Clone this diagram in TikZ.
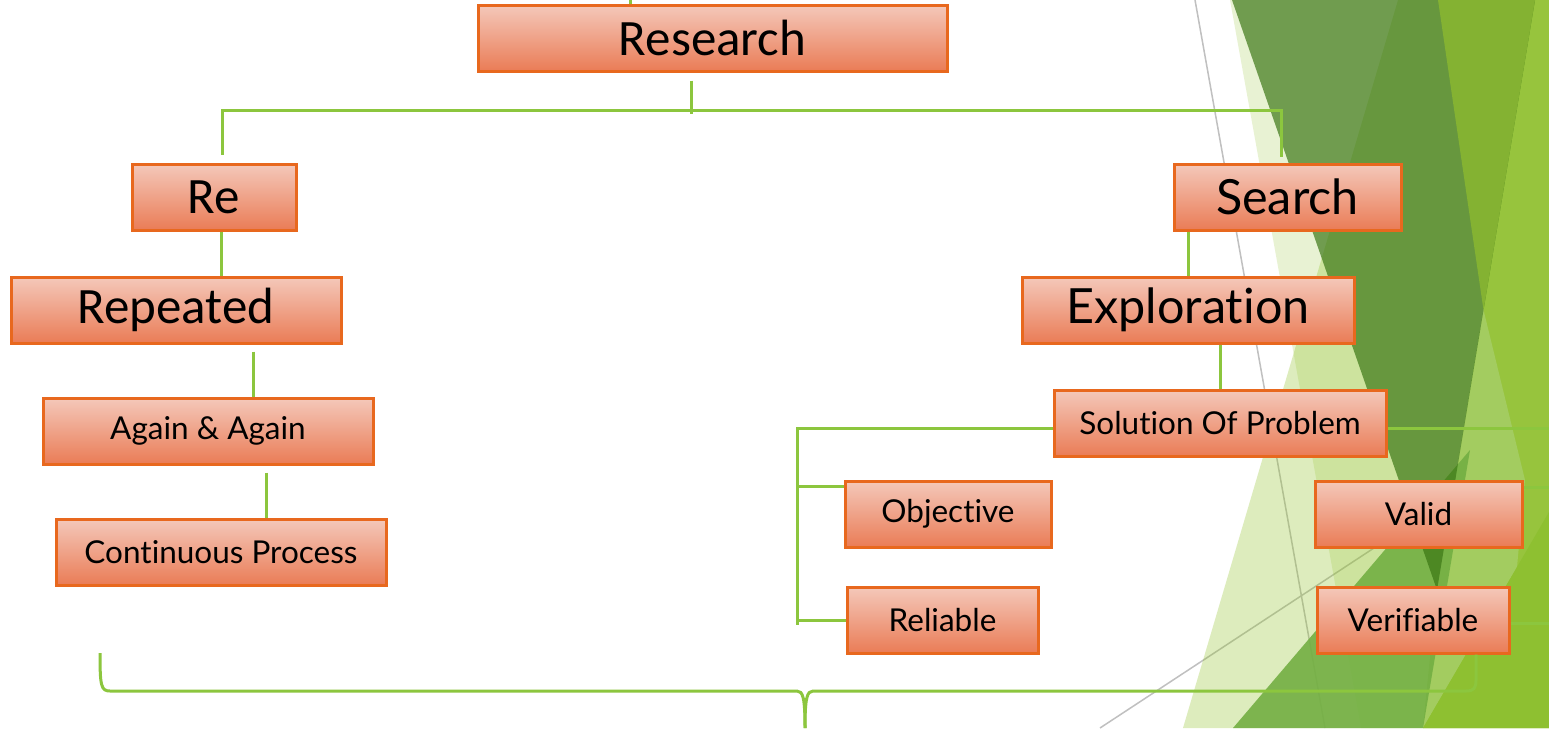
\documentclass[tikz,border=0pt]{standalone}
\usepackage{fontspec}
\newfontfamily\carlito{Carlito}
\newfontfamily\lato[Ligatures=CommonOff]{Lato}
\definecolor{boxtop}{RGB}{244,200,186}
\definecolor{boxbot}{RGB}{234,124,86}
\definecolor{boxline}{RGB}{232,104,30}
\definecolor{linkgreen}{RGB}{140,198,62}
\definecolor{facet}{RGB}{144,194,38}
\definecolor{ybig}{RGB}{151,196,61}
\definecolor{ylight}{RGB}{163,204,96}
\definecolor{ytwo}{RGB}{142,192,49}
\definecolor{yone}{RGB}{132,178,50}
\definecolor{mid}{RGB}{115,175,67}
\definecolor{deep}{RGB}{56,116,17}
\definecolor{rule}{RGB}{192,192,192}
\begin{document}
\begin{tikzpicture}[x=1pt,y=-1pt,
	box/.style={draw=boxline, line width=3pt, top color=boxtop, bottom color=boxbot, minimum height=66pt, inner sep=0pt, text=black},
	bigtxt/.style={font=\carlito\fontsize{51}{55}\selectfont},
	headtxt/.style={font=\lato\fontsize{48.5}{52}\selectfont},
	smalltxt/.style={font=\lato\fontsize{31.5}{35}\selectfont},
	link/.style={draw=linkgreen, line width=3pt}]
	
	\useasboundingbox (0,0) rectangle (1549,728);
	\clip (0,0) rectangle (1549,728);
	\fill[white] (0,0) rectangle (1549,728);
	
	% facets on the right
	\draw[rule, line width=1.5pt] (1195,0) -- (1325,728);
	\draw[rule, line width=1.5pt] (1100,728) -- (1549,433);
	\fill[facet, opacity=0.3] (1398,0) -- (1549,0) -- (1549,728) -- (1183,728) -- cycle;
	\fill[facet, opacity=0.2] (1230,0) -- (1549,0) -- (1549,728) -- (1361,728) -- cycle;
	\fill[ybig] (1500,0) -- (1549,0) -- (1549,728) -- (1423,728) -- (1437,590) -- (1483.5,310) -- cycle;
	\fill[ylight] (1483.5,310) -- (1525,480) -- (1517,567) -- (1423,728) -- (1437,590) -- cycle;
	\fill[ytwo] (1517,567) -- (1549,512) -- (1549,728) -- (1423,728) -- cycle;
	\fill[mid, opacity=0.9] (1233,728) -- (1470,450) -- (1423,728) -- cycle;
	\fill[deep, opacity=0.68] (1232,0) -- (1535,0) -- (1437,590) -- cycle;
	\fill[yone] (1438,0) -- (1535,0) -- (1483.5,310) -- cycle;
	
	% boxes
	\node[box, bigtxt, minimum width=469pt] (research) at (712.5,38) {Research};
	\node[box, bigtxt, minimum width=164pt] (re) at (214,197) {Re};
	\node[box, bigtxt, minimum width=330pt] (repeated) at (176,310) {Repeated};
	\node[box, smalltxt, minimum width=330pt] (again) at (208,431) {Again \& Again};
	\node[box, smalltxt, minimum width=330pt] (cont) at (221,552) {Continuous Process};
	\node[box, headtxt, minimum width=227pt] (search) at (1287.5,197) {Search};
	\node[box, headtxt, minimum width=332pt] (explor) at (1188,310) {Exploration};
	\node[box, smalltxt, minimum width=332pt] (solution) at (1220,423) {Solution Of Problem};
	\node[box, smalltxt, minimum width=206pt] (objective) at (948,514) {Objective};
	\node[box, smalltxt, minimum width=191pt] (reliable) at (942.5,620) {Reliable};
	\node[box, smalltxt, minimum width=207pt] (valid) at (1418.5,514) {Valid};
	\node[box, smalltxt, minimum width=192pt] (verif) at (1413,620) {Verifiable};
	
	\coordinate (stub) at (630,0);
	\coordinate (rmid) at (691,110);
	\coordinate (rleft) at (222,110);
	\coordinate (rright) at (1281,110);
	\coordinate (lbus) at (797,428);
	\coordinate (lend) at (797,625);
	\coordinate (rbus) at (1549,428);
	\coordinate (bl) at (100,653);
	\coordinate (btip) at (805,728);
	
	% connectors
	\draw[link] (stub) -- (stub |- research.north);
	\draw[link, shorten <=8pt, shorten >=-4pt] (research.south -| rmid) -- (rmid);
	\draw[link, shorten <=8pt, shorten >=6pt] (re.north -| rleft) -- (rleft) -- (rright) -- (search.north -| rright);
	\draw[link] ([xshift=7pt]re.south) -- ([xshift=7pt]re.south |- repeated.north);
	\draw[link, shorten <=7pt] ([xshift=77pt]repeated.south) -- ([xshift=77pt]repeated.south |- again.north);
	\draw[link, shorten <=7pt] ([xshift=58pt]again.south) -- ([xshift=58pt]again.south |- cont.north);
	\draw[link] (search.south -| explor.north) -- (explor.north);
	\draw[link] (explor.south -| solution.north) -- (solution.north);
	\draw[link] (solution.west |- lbus) -- (lbus) -- (lend);
	\draw[link] (lbus |- 0,486) -- (objective.west |- 0,486);
	\draw[link] (reliable.west) -- (reliable.west -| lend);
	\draw[link] (solution.east |- rbus) -- (rbus);
	\draw[link] (valid.east |- 0,487) -- (rbus |- 0,487);
	\draw[link] (verif.east |- 0,623) -- (rbus |- 0,623);
	
	% brace along the bottom
	\draw[link] (bl) .. controls (100,686) and (101,691) .. (110,691) -- (797,691) .. controls (803,691) and (805,698) .. (btip);
	\draw[link] (btip) .. controls (805,698) and (807,691) .. (813,691) -- (1466,691) .. controls (1474,691) and (1476,688) .. (1476,680) -- ([xshift=63pt]verif.south);
\end{tikzpicture}
\end{document}
